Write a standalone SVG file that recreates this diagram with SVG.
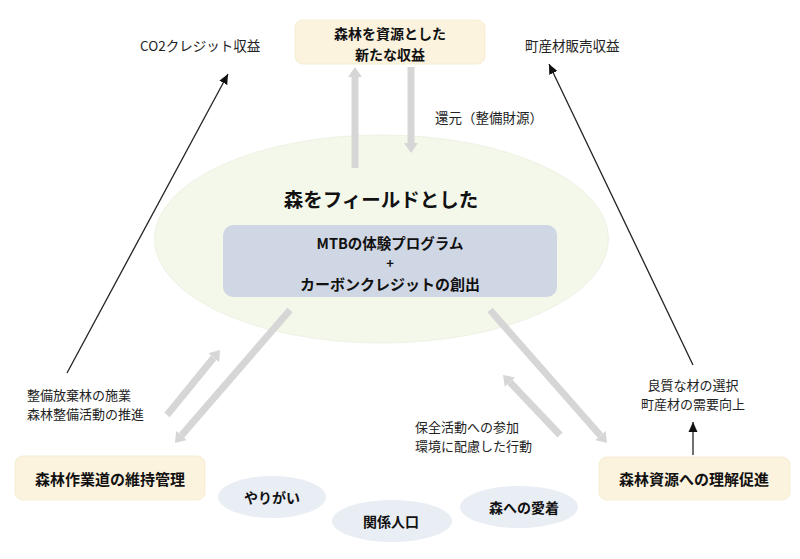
<svg xmlns="http://www.w3.org/2000/svg" width="800" height="559" viewBox="0 0 800 559">
<defs>
<style>
text{font-family:"Noto Sans CJK JP","Noto Sans",sans-serif;dominant-baseline:central}
.lbl{font-size:13.5px;fill:#222}
.lbl2{font-size:13px;fill:#222}
.b{font-weight:bold;fill:#111}
.box{fill:#FCF3DE;stroke:#F6EDD6;stroke-width:1}
.oval{fill:#E9EDF4}
.grey{stroke:#D6D6D6;stroke-width:7;fill:none}
.blk{stroke:#222;stroke-width:1.3;fill:none}
</style>
<marker id="gh" markerUnits="userSpaceOnUse" markerWidth="12" markerHeight="16" refX="0" refY="7" orient="auto" viewBox="0 0 12 14">
<path d="M0,0 L10,7 L0,14 z" fill="#D6D6D6"/>
</marker>
<marker id="bh" markerUnits="userSpaceOnUse" markerWidth="11" markerHeight="10" refX="10" refY="4.5" orient="auto" viewBox="0 0 11 9">
<path d="M0,0 L10,4.5 L0,9 z" fill="#111"/>
</marker>
</defs>
<rect width="800" height="559" fill="#fff"/>

<g id="field">
<ellipse cx="381.5" cy="239" rx="227" ry="104" fill="#F4F8EB" stroke="#EEF2E5" stroke-width="1"/>
<text x="381" y="198" class="b" font-size="19.5" text-anchor="middle">森をフィールドとした</text>
</g>

<g id="mtb">
<rect x="223" y="225" width="334" height="72" rx="10" fill="#D0D7E4"/>
<text class="b" text-anchor="middle"><tspan x="390" y="241.5" font-size="14.5">MTBの体験プログラム</tspan><tspan x="390" y="262" font-size="13">+</tspan><tspan x="390" y="282.5" font-size="15">カーボンクレジットの創出</tspan></text>
</g>

<g id="connectors">
<line class="grey" x1="355" y1="168" x2="355" y2="77" marker-end="url(#gh)"/>
<line class="grey" x1="411" y1="67" x2="411" y2="143" marker-end="url(#gh)"/>
<line class="grey" x1="290" y1="310" x2="181.5" y2="435.4" marker-end="url(#gh)"/>
<line class="grey" x1="167" y1="415" x2="213.7" y2="357.7" marker-end="url(#gh)"/>
<line class="grey" x1="490" y1="310" x2="600.4" y2="435.5" marker-end="url(#gh)"/>
<line class="grey" x1="560" y1="435" x2="509.9" y2="382.2" marker-end="url(#gh)"/>
<line class="blk" x1="67" y1="373" x2="228" y2="74" marker-end="url(#bh)"/>
<line class="blk" x1="693" y1="365" x2="549" y2="64" marker-end="url(#bh)"/>
<line class="blk" x1="693" y1="455" x2="693" y2="422" marker-end="url(#bh)"/>
</g>

<g id="revenue">
<rect class="box" x="295" y="20" width="190" height="44" rx="8"/>
<text class="b" font-size="14" text-anchor="middle"><tspan x="390" y="33">森林を資源とした</tspan><tspan x="390" y="53.5">新たな収益</tspan></text>
</g>

<g id="road">
<rect class="box" x="15" y="456" width="190" height="44" rx="8"/>
<text x="110" y="478" class="b" font-size="15" text-anchor="middle">森林作業道の維持管理</text>
</g>

<g id="understanding">
<rect class="box" x="599" y="457" width="191" height="43" rx="8"/>
<text x="694" y="478" class="b" font-size="15" text-anchor="middle">森林資源への理解促進</text>
</g>

<g id="yarigai">
<ellipse class="oval" cx="272" cy="497" rx="54" ry="21"/>
<text x="272" y="497" class="b" font-size="14" text-anchor="middle">やりがい</text>
</g>
<g id="kankei">
<ellipse class="oval" cx="392" cy="521" rx="60" ry="21"/>
<text x="391" y="521" class="b" font-size="14" text-anchor="middle">関係人口</text>
</g>
<g id="aichaku">
<ellipse class="oval" cx="519" cy="507" rx="59" ry="21"/>
<text x="524" y="507" class="b" font-size="14" text-anchor="middle">森への愛着</text>
</g>

<g id="labels">
<text x="140" y="45" class="lbl">CO2クレジット収益</text>
<text x="525" y="45" class="lbl">町産材販売収益</text>
<text x="435" y="117" class="lbl">還元（整備財源）</text>
<text class="lbl2"><tspan x="27" y="394">整備放棄林の施業</tspan><tspan x="27" y="413">森林整備活動の推進</tspan></text>
<text class="lbl2"><tspan x="415" y="425.5">保全活動への参加</tspan><tspan x="415" y="444.5">環境に配慮した行動</tspan></text>
<text class="lbl2" text-anchor="middle"><tspan x="693" y="384">良質な材の選択</tspan><tspan x="693" y="403">町産材の需要向上</tspan></text>
</g>
</svg>
